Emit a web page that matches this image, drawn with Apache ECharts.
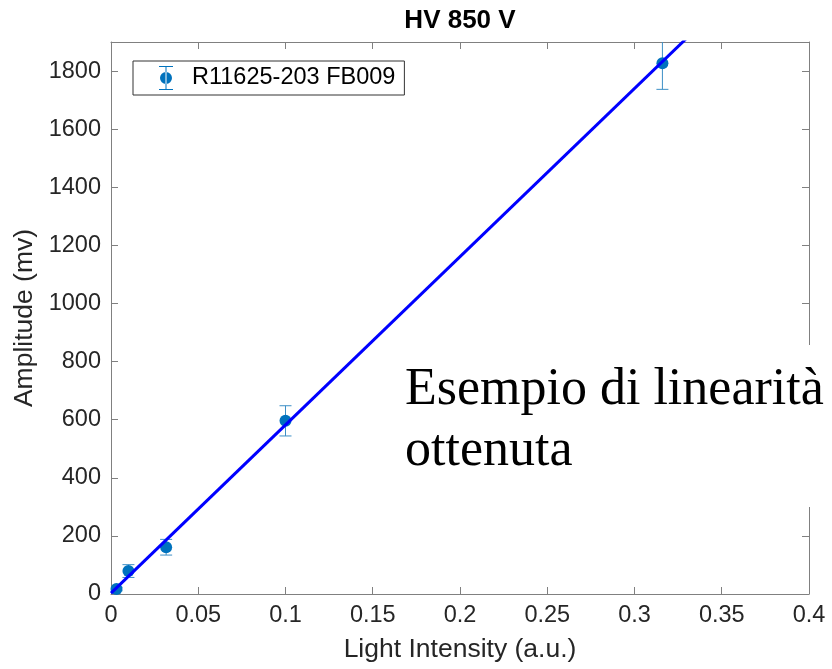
<!DOCTYPE html>
<html>
<head>
<meta charset="utf-8">
<script src="https://cdn.jsdelivr.net/npm/echarts@6/dist/echarts.min.js"></script>
<style>
html,body{margin:0;padding:0;background:#fff;}
#chart{width:832px;height:669px;}
</style>
</head>
<body>
<div id="chart"></div>
<script>
// Data
const xValues = [0.00316, 0.01, 0.0316, 0.1, 0.316];
const yValues = [17, 79, 161, 596, 1827];
const yErrors = [6, 22, 27, 52, 90];
const fitX = [0, 0.4];
const fitY = [3, 2319];
const seriesName = 'R11625-203 FB009';
const titleText = 'HV 850 V';
const xName = 'Light Intensity (a.u.)';
const yName = 'Amplitude (mv)';
const noteText = 'Esempio di linearità\nottenuta';

const FONT = '"Liberation Sans", Arial, Helvetica, sans-serif';
const MARK = '#0072BD';
const ERRC = '#3d8fc6';
const AXC = '#808080';
const TXT = '#262626';

const pointData = xValues.map((x, i) => [x, yValues[i]]);
const errData = xValues.map((x, i) => [x, yValues[i] - yErrors[i], yValues[i] + yErrors[i]]);
const fitData = fitX.map((x, i) => [x, fitY[i]]);

const chart = echarts.init(document.getElementById('chart'), null, {renderer: 'canvas'});

const commonAxisLine = {show: true, onZero: false, lineStyle: {color: AXC, width: 1}};
const commonTick = {show: true, inside: true, length: 7, lineStyle: {color: AXC, width: 1}};

const legendIcon = 'path://M0 0H14V1H0Z M6.5 0H7.5V24H6.5Z M0 23H14V24H0Z M1 12A6 6 0 1 0 13 12A6 6 0 1 0 1 12Z';

chart.setOption({
  backgroundColor: '#ffffff',
  animation: false,
  title: {
    text: titleText,
    left: 460,
    top: 8,
    padding: 0,
    textAlign: 'center',
    textStyle: {fontFamily: FONT, fontSize: 26, fontWeight: 'bold', color: '#000'}
  },
  legend: {
    data: [{name: seriesName, icon: legendIcon}],
    left: 133,
    top: 61,
    orient: 'vertical',
    padding: [5, 9, 5, 26],
    itemWidth: 42,
    itemHeight: 24,
    borderColor: '#333',
    borderWidth: 1,
    backgroundColor: '#fff',
    textStyle: {fontFamily: FONT, fontSize: 23.5, color: '#000'}
  },
  grid: {left: 111, right: 23, top: 42, bottom: 75},
  xAxis: [
    {
      type: 'value', min: 0, max: 0.4, interval: 0.05, position: 'bottom',
      name: xName, nameLocation: 'middle', nameGap: 42,
      nameTextStyle: {fontFamily: FONT, fontSize: 26.5, color: TXT},
      axisLine: commonAxisLine, axisTick: commonTick, splitLine: {show: false},
      axisLabel: {fontFamily: FONT, fontSize: 23.5, color: TXT, margin: 10}
    },
    {
      type: 'value', min: 0, max: 0.4, interval: 0.05, position: 'top',
      axisLine: commonAxisLine, axisTick: commonTick, splitLine: {show: false},
      axisLabel: {show: false}
    }
  ],
  yAxis: [
    {
      type: 'value', min: 0, max: 1900, interval: 200, position: 'left',
      name: yName, nameLocation: 'middle', nameGap: 70,
      nameTextStyle: {fontFamily: FONT, fontSize: 26.5, color: TXT},
      axisLine: commonAxisLine, axisTick: commonTick, splitLine: {show: false},
      axisLabel: {fontFamily: FONT, fontSize: 23.5, color: TXT, margin: 10, showMaxLabel: false,
        formatter: function (v) { return String(v); }}
    },
    {
      type: 'value', min: 0, max: 1900, interval: 200, position: 'right',
      axisLine: commonAxisLine, axisTick: commonTick, splitLine: {show: false},
      axisLabel: {show: false}
    }
  ],
  series: [
    {
      type: 'custom',
      name: 'errors',
      xAxisIndex: 0, yAxisIndex: 0,
      clip: true,
      z: 2,
      data: errData,
      encode: {x: 0, y: [1, 2]},
      renderItem: function (params, api) {
        const x = api.value(0);
        const lo = api.coord([x, api.value(1)]);
        const hi = api.coord([x, api.value(2)]);
        const w = 6;
        const st = {stroke: ERRC, lineWidth: 1};
        return {
          type: 'group',
          children: [
            {type: 'line', shape: {x1: lo[0], y1: lo[1], x2: hi[0], y2: hi[1]}, style: st},
            {type: 'line', shape: {x1: hi[0] - w, y1: hi[1], x2: hi[0] + w, y2: hi[1]}, style: st},
            {type: 'line', shape: {x1: lo[0] - w, y1: lo[1], x2: lo[0] + w, y2: lo[1]}, style: st}
          ]
        };
      }
    },
    {
      type: 'scatter',
      name: seriesName,
      xAxisIndex: 0, yAxisIndex: 0,
      symbol: 'circle',
      symbolSize: 12,
      z: 3,
      itemStyle: {color: MARK, opacity: 1},
      data: pointData
    },
    {
      type: 'line',
      name: 'fit',
      xAxisIndex: 0, yAxisIndex: 0,
      showSymbol: false,
      symbol: 'none',
      clip: true,
      z: 4,
      lineStyle: {color: '#0000ff', width: 3},
      data: fitData
    }
  ],
  graphic: [
    {
      type: 'rect',
      z: 100,
      shape: {x: 395, y: 345, width: 437, height: 162},
      style: {fill: '#ffffff'}
    },
    {
      type: 'text',
      z: 101,
      x: 405,
      y: 360,
      style: {
        text: noteText,
        font: '52px "Liberation Serif", "Times New Roman", Times, serif',
        fill: '#000000',
        lineHeight: 61,
        verticalAlign: 'top',
        align: 'left'
      }
    }
  ]
});
</script>
</body>
</html>
